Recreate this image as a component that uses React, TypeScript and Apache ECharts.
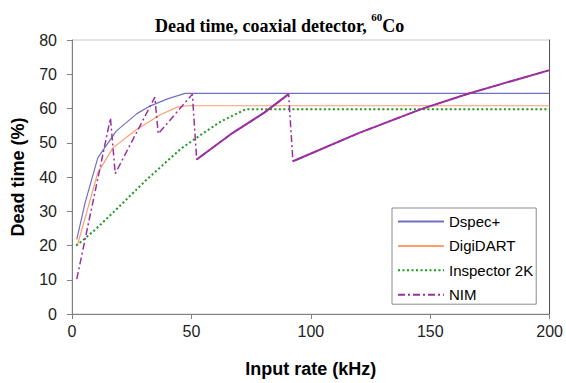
import React, { useEffect, useRef } from "react";
import * as echarts from "echarts";

const dspecX = [2, 5.5, 10.8, 18.5, 27.2, 32.6, 40, 47.3, 200];
const dspecY = [21.8, 32.5, 45.6, 53.4, 58.5, 60.7, 62.8, 64.4, 64.4];

const digiX = [2.2, 10.8, 17.1, 26.9, 36.8, 44, 48, 200];
const digiY = [19.9, 41.2, 48.5, 53.8, 58.1, 60.4, 60.8, 60.8];

const inspX = [1.7, 4, 10, 18.5, 31.2, 45.5, 53.9, 62.3, 72.8, 200];
const inspY = [20, 21.2, 24.8, 30.5, 39.2, 48.2, 52.3, 56.2, 59.8, 59.8];

const nimX = [2, 16.1, 18.1, 34.7, 36.1, 50.4, 52.2, 66.5, 80.5, 90.7, 92.5, 120, 146.5, 166.2, 180, 200];
const nimY = [10.2, 57.2, 41, 63.3, 52.6, 64.2, 45.1, 52.5, 58.8, 64.2, 44.6, 52.8, 59.9, 64.4, 67.2, 71.2];

const seriesNames = ["Dspec+", "DigiDART", "Inspector 2K", "NIM"];
const xTicks = [0, 50, 100, 150, 200];
const yTicks = [0, 10, 20, 30, 40, 50, 60, 70, 80];

const zip = (xs: number[], ys: number[]) => xs.map((x, i) => [x, ys[i]]);

export default function App() {
  const ref = useRef<HTMLDivElement>(null);
  useEffect(() => {
    if (!ref.current) return;
    const chart = echarts.init(ref.current, null, { renderer: "svg" });
    const font = "Liberation Sans, Arial, sans-serif";
    const serif = "Liberation Serif, Times New Roman, serif";
    const nimPts = zip(nimX, nimY);
    const solidA = nimPts.slice(6, 10);
    const solidB = nimPts.slice(10);
    chart.setOption({
      animation: false,
      backgroundColor: "#fff",
      title: {
        text: "{a|Dead time, coaxial detector, }{s|60}{a|Co}",
        left: 150,
        top: 6,
        textStyle: {
          rich: {
            a: { fontFamily: serif, fontWeight: "bold", fontSize: 18, color: "#000", lineHeight: 24, verticalAlign: "bottom" },
            s: { fontFamily: serif, fontWeight: "bold", fontSize: 11, color: "#000", lineHeight: 24, verticalAlign: "top" },
          },
        },
      },
      grid: {
        left: 72,
        right: 15,
        top: 40,
        bottom: 68,
        show: true,
        borderColor: "#c8c8c8",
        borderWidth: 1,
        backgroundColor: "#fff",
      },
      legend: {
        data: seriesNames,
        orient: "vertical",
        left: 392,
        top: 208,
        itemWidth: 46,
        itemHeight: 12,
        itemGap: 9.4,
        padding: [6, 3, 2, 5],
        backgroundColor: "#fff",
        borderColor: "#8c8c8c",
        borderWidth: 1,
        borderRadius: 0,
        itemStyle: { opacity: 0 },
        textStyle: { fontFamily: font, fontSize: 15, color: "#000" },
      },
      xAxis: {
        type: "value",
        min: 0,
        max: 200,
        interval: 50,
        name: "Input rate (kHz)",
        nameLocation: "middle",
        nameGap: 46,
        nameTextStyle: { fontFamily: font, fontSize: 18, fontWeight: "bold", color: "#000" },
        axisLine: { show: true, lineStyle: { color: "#808080", width: 1 } },
        axisTick: { show: true, inside: false, length: 5, lineStyle: { color: "#808080" } },
        axisLabel: { fontFamily: font, fontSize: 16, color: "#222", margin: 9, formatter: (v: number) => (xTicks.includes(v) ? String(v) : "") },
        splitLine: { show: false },
      },
      yAxis: [
        {
          type: "value",
          min: 0,
          max: 80,
          interval: 10,
          name: "Dead time (%)",
          nameLocation: "middle",
          nameGap: 45,
          nameTextStyle: { fontFamily: font, fontSize: 18, fontWeight: "bold", color: "#000" },
          axisLine: { show: true, lineStyle: { color: "#808080", width: 1 } },
          axisTick: { show: true, inside: false, length: 5, lineStyle: { color: "#808080" } },
          axisLabel: { fontFamily: font, fontSize: 16, color: "#222", margin: 15, formatter: (v: number) => (yTicks.includes(v) ? String(v) : "") },
          splitLine: { show: false },
        },
        {
          type: "value",
          position: "right",
          min: 0,
          max: 80,
          interval: 10,
          axisLine: { show: true, lineStyle: { color: "#555", width: 1 } },
          axisTick: { show: false },
          axisLabel: { show: false },
          splitLine: { show: false },
        },
      ],
      series: [
        {
          name: "Dspec+",
          type: "line",
          data: zip(dspecX, dspecY),
          symbol: "none",
          lineStyle: { color: "#7070c0", width: 1.2 },
          itemStyle: { color: "#7070c0" },
          z: 3,
        },
        {
          name: "DigiDART",
          type: "line",
          data: zip(digiX, digiY),
          symbol: "none",
          lineStyle: { color: "#ff9c70", width: 1.2 },
          itemStyle: { color: "#ff9c70" },
          z: 3,
        },
        {
          name: "Inspector 2K",
          type: "line",
          data: zip(inspX, inspY),
          symbol: "none",
          lineStyle: { color: "#1a9a1a", width: 2, type: [2, 2.5] },
          itemStyle: { color: "#1a9a1a" },
          z: 3,
        },
        {
          name: "NIM",
          type: "line",
          data: nimPts,
          symbol: "none",
          lineStyle: { color: "#9a30a0", width: 1.5, type: [7, 3, 2, 3] },
          itemStyle: { color: "#9a30a0" },
          z: 4,
        },
        {
          name: "NIM_a",
          type: "line",
          data: solidA,
          symbol: "none",
          silent: true,
          lineStyle: { color: "#9a30a0", width: 2 },
          z: 4,
        },
        {
          name: "NIM_b",
          type: "line",
          data: solidB,
          symbol: "none",
          silent: true,
          lineStyle: { color: "#9a30a0", width: 2 },
          z: 4,
        },
      ],
    });
    return () => chart.dispose();
  }, []);
  return <div ref={ref} style={{ width: 566, height: 383, position: "absolute", left: 0, top: 0 }} />;
}
